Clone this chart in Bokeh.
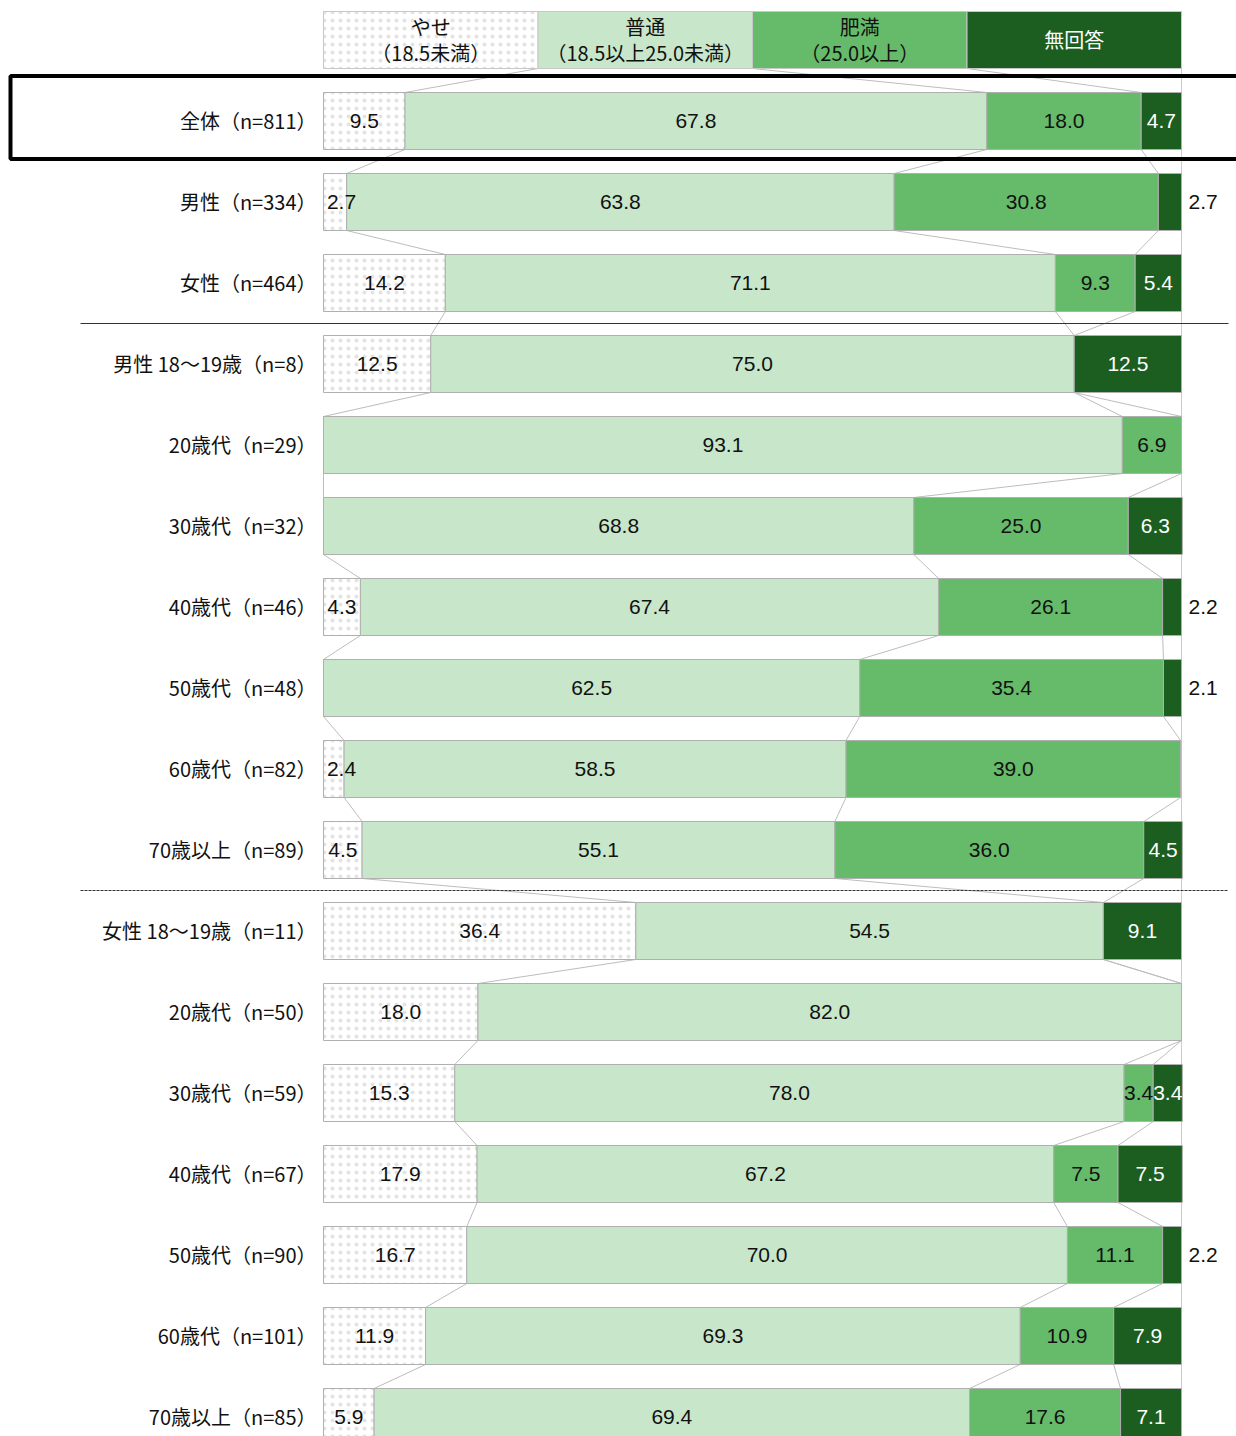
from bokeh.plotting import figure
from bokeh.models import Range1d
from bokeh.core.properties import value
from bokeh.embed import file_html
from bokeh.resources import INLINE

# ---------------- data ----------------
categories = [
    "全体（n=811）", "男性（n=334）", "女性（n=464）",
    "男性 18～19歳（n=8）", "20歳代（n=29）", "30歳代（n=32）", "40歳代（n=46）",
    "50歳代（n=48）", "60歳代（n=82）", "70歳以上（n=89）",
    "女性 18～19歳（n=11）", "20歳代（n=50）", "30歳代（n=59）", "40歳代（n=67）",
    "50歳代（n=90）", "60歳代（n=101）", "70歳以上（n=85）",
]
yase = [9.5, 2.7, 14.2, 12.5, 0.0, 0.0, 4.3, 0.0, 2.4, 4.5, 36.4, 18.0, 15.3, 17.9, 16.7, 11.9, 5.9]
futsu = [67.8, 63.8, 71.1, 75.0, 93.1, 68.8, 67.4, 62.5, 58.5, 55.1, 54.5, 82.0, 78.0, 67.2, 70.0, 69.3, 69.4]
himan = [18.0, 30.8, 9.3, 0.0, 6.9, 25.0, 26.1, 35.4, 39.0, 36.0, 0.0, 0.0, 3.4, 7.5, 11.1, 10.9, 17.6]
mukaito = [4.7, 2.7, 5.4, 12.5, 0.0, 6.3, 2.2, 2.1, 0.0, 4.5, 9.1, 0.0, 3.4, 7.5, 2.2, 7.9, 7.1]
series_line1 = ["やせ", "普通", "肥満", "無回答"]
series_line2 = ["（18.5未満）", "（18.5以上25.0未満）", "（25.0以上）", ""]

# ---------------- style ----------------
W, H = 1236, 1436
X0PX, X1PX = 323, 1181
SC = 100.0 / (X1PX - X0PX)


def px(x):
    return (x - X0PX) * SC


fills = ["#ffffff", "#c8e6c9", "#66bb6a", "#1b5e20"]
txt_cols = ["#111111", "#111111", "#111111", "#ffffff"]
NUM_FONT = value("Liberation Sans")
JP_FONT = value("Noto Sans CJK JP")
DOTS = dict(hatch_pattern="dot", hatch_color="#e3e3e3", hatch_scale=8, hatch_weight=0.6)

ROW0 = 120.5
STEP = 81
BAR_H = 57
HDR_Y = 39.5

p = figure(width=W, height=H, x_range=Range1d(px(0), px(W)), y_range=Range1d(H, 0),
           output_backend="svg", toolbar_location=None,
           x_axis_location=None, y_axis_location=None,
           min_border=0, min_border_left=0, min_border_right=0,
           min_border_top=0, min_border_bottom=0)
p.grid.visible = False
p.outline_line_color = None
p.background_fill_color = "white"

# vertical 100% line
p.segment(x0=[100], y0=[HDR_Y - BAR_H / 2], x1=[100], y1=[H], line_color="#cccccc", line_width=1)

series = [yase, futsu, himan, mukaito]
n = len(categories)
ys = [ROW0 + STEP * i for i in range(n)]

# cumulative bounds
lefts = [[0.0] * n for _ in range(4)]
rights = [[0.0] * n for _ in range(4)]
for i in range(n):
    c = 0.0
    for k in range(4):
        lefts[k][i] = c
        c += series[k][i]
        rights[k][i] = c

# connecting lines (header -> rows -> rows)
bounds = [[25.0, 50.0, 75.0]] + [[rights[k][i] for k in range(3)] for i in range(n)]
cy = [HDR_Y] + ys
sx0, sy0, sx1, sy1 = [], [], [], []
for r in range(len(bounds) - 1):
    for k in range(3):
        sx0.append(bounds[r][k]); sy0.append(cy[r] + BAR_H / 2)
        sx1.append(bounds[r + 1][k]); sy1.append(cy[r + 1] - BAR_H / 2)
p.segment(x0=sx0, y0=sy0, x1=sx1, y1=sy1, line_color="#bdbdbd", line_width=1)

# header legend bar
for k in range(4):
    kw = dict(y=[HDR_Y], left=[25.0 * k], right=[25.0 * (k + 1)], height=BAR_H,
              fill_color=fills[k], line_color="#c8c8c8", line_width=1)
    if k == 0:
        kw.update(DOTS)
    p.hbar(**kw)
    cx = 25.0 * k + 12.5
    if series_line2[k]:
        p.text(x=[cx], y=[HDR_Y - 13.5], text=[series_line1[k]], text_align="center",
               text_baseline="middle", text_font=JP_FONT, text_font_size="20px", text_color=txt_cols[k])
        p.text(x=[cx], y=[HDR_Y + 12.5], text=[series_line2[k]], text_align="center",
               text_baseline="middle", text_font=JP_FONT, text_font_size="20px", text_color=txt_cols[k])
    else:
        p.text(x=[cx], y=[HDR_Y - 1], text=[series_line1[k]], text_align="center",
               text_baseline="middle", text_font=JP_FONT, text_font_size="20px", text_color=txt_cols[k])

# bars
for k in range(4):
    kw = dict(y=ys, left=lefts[k], right=rights[k], height=BAR_H,
              fill_color=fills[k], line_color="#b0b0b0", line_width=1)
    if k == 0:
        kw.update(DOTS)
    p.hbar(**kw)

# value labels
in_x, in_y, in_t, in_c = [], [], [], []
out_x, out_y, out_t = [], [], []
for i in range(n):
    for k in range(4):
        v = series[k][i]
        if v <= 0:
            continue
        label = f"{v:.1f}"
        if k == 3 and v < 3:
            out_x.append(100 + px(X0PX + 7)); out_y.append(ys[i]); out_t.append(label)
        else:
            mid = (lefts[k][i] + rights[k][i]) / 2
            if k == 0:
                mid = max(mid, px(X0PX + 18))
            in_x.append(mid); in_y.append(ys[i]); in_t.append(label); in_c.append(txt_cols[k])
p.text(x=in_x, y=in_y, text=in_t, text_color=in_c, text_align="center", text_baseline="middle",
       text_font=NUM_FONT, text_font_size="21px")
p.text(x=out_x, y=out_y, text=out_t, text_color="#111111", text_align="left", text_baseline="middle",
       text_font=NUM_FONT, text_font_size="21px")

# category labels
p.text(x=[px(316)] * n, y=[y - 1 for y in ys], text=categories, text_align="right", text_baseline="middle",
       text_font=JP_FONT, text_font_size="20px", text_color="#111111")

# separators
sep1 = (ys[2] + ys[3]) / 2
sep2 = (ys[9] + ys[10]) / 2
p.segment(x0=[px(80)], y0=[sep1], x1=[px(1228)], y1=[sep1], line_color="#333333", line_width=1.2)
p.segment(x0=[px(80)], y0=[sep2], x1=[px(1228)], y1=[sep2], line_color="#333333", line_width=1,
          line_dash="3 1")

# highlight frame around the total row
p.quad(left=[px(10)], right=[px(1260)], top=[ys[0] - 45], bottom=[ys[0] + 38],
       fill_color=None, line_color="#000000", line_width=4)

open("out.html", "w").write(file_html(p, INLINE))
